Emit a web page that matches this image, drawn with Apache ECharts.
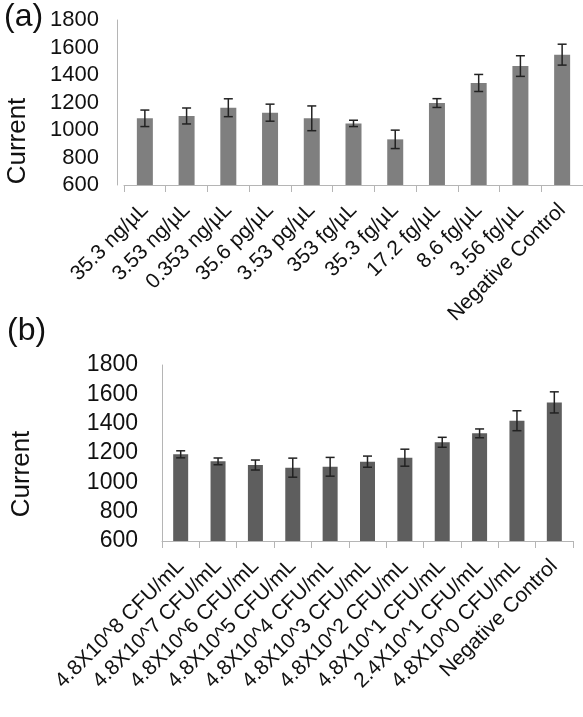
<!DOCTYPE html>
<html>
<head>
<meta charset="utf-8">
<script src="https://cdn.jsdelivr.net/npm/echarts@6/dist/echarts.min.js"></script>
<style>
html,body{margin:0;padding:0;background:#fff;}
#c{width:583px;height:717px;}
</style>
</head>
<body>
<div id="c"></div>
<script>
const catsA = ['35.3 ng/µL','3.53 ng/µL','0.353 ng/µL','35.6 pg/µL','3.53 pg/µL','353 fg/µL','35.3 fg/µL','17.2 fg/µL','8.6 fg/µL','3.56 fg/µL','Negative Control'];
const valsA = [1085, 1102, 1162, 1126, 1085, 1048, 932, 1196, 1342, 1465, 1548];
const errA  = [60, 58, 65, 62, 90, 23, 67, 32, 62, 75, 76];

const catsB = ['4.8X10^8 CFU/mL','4.8X10^7 CFU/mL','4.8X10^6 CFU/mL','4.8X10^5 CFU/mL','4.8X10^4 CFU/mL','4.8X10^3 CFU/mL','4.8X10^2 CFU/mL','4.8X10^1 CFU/mL','2.4X10^1 CFU/mL','4.8X10^0 CFU/mL','Negative Control'];
const valsB = [1191, 1143, 1118, 1100, 1106, 1141, 1168, 1273, 1334, 1420, 1545];
const errB  = [24, 23, 34, 65, 64, 38, 58, 34, 30, 68, 72];

const yMin = 600, yMax = 1800, yStep = 200;
const FONT = '"Liberation Sans", Arial, sans-serif';

function errRender(params, api) {
  const x = api.value(0), v = api.value(1), e = api.value(2);
  const t = api.coord([x, v + e]);
  const b = api.coord([x, v - e]);
  const hw = 4.5;
  const st = {stroke: '#222', lineWidth: 1.5};
  return {type: 'group', children: [
    {type: 'line', shape: {x1: t[0], y1: t[1], x2: b[0], y2: b[1]}, style: st},
    {type: 'line', shape: {x1: t[0]-hw, y1: t[1], x2: t[0]+hw, y2: t[1]}, style: st},
    {type: 'line', shape: {x1: b[0]-hw, y1: b[1], x2: b[0]+hw, y2: b[1]}, style: st}
  ]};
}

const axisLine = {lineStyle: {color: '#b5b5b5', width: 1}};

function xAx(cats, gi) {
  return {
    type: 'category', data: cats, gridIndex: gi,
    axisLine: axisLine,
    axisTick: {show: true, length: 7, lineStyle: {color: '#b5b5b5'}},
    axisLabel: {interval: 0, rotate: 45, fontSize: 21, color: '#111', fontFamily: FONT, margin: 22, verticalAlign: 'middle', padding: [20, 0, 0, 0]}
  };
}
function yAx(gi, off, margin, fs) {
  return {
    type: 'value', gridIndex: gi, min: yMin, max: yMax, interval: yStep, offset: off,
    axisLine: Object.assign({show: true}, axisLine),
    axisTick: {show: false},
    splitLine: {show: false},
    axisLabel: {fontSize: fs, color: '#111', fontFamily: FONT, margin: margin, formatter: v => String(v)}
  };
}

const chart = echarts.init(document.getElementById('c'));
chart.setOption({
  animation: false,
  backgroundColor: '#fff',
  grid: [
    {left: 124, top: 20, width: 461, height: 165},
    {left: 162, top: 365, width: 411, height: 176}
  ],
  xAxis: [xAx(catsA, 0), xAx(catsB, 1)],
  yAxis: [yAx(0, 7, 18, 22), yAx(1, 0, 24, 23)],
  graphic: [
    {type: 'text', left: 4, top: 1, style: {text: '(a)', fontSize: 32, fontFamily: FONT, fill: '#111'}},
    {type: 'text', left: 7, top: 315, style: {text: '(b)', fontSize: 32, fontFamily: FONT, fill: '#111'}},
    {type: 'text', x: 18, y: 141, rotation: Math.PI/2, style: {text: 'Current', fontSize: 26, fontFamily: FONT, fill: '#111', align: 'center', verticalAlign: 'middle'}},
    {type: 'text', x: 22, y: 474, rotation: Math.PI/2, style: {text: 'Current', fontSize: 26, fontFamily: FONT, fill: '#111', align: 'center', verticalAlign: 'middle'}}
  ],
  series: [
    {type: 'bar', xAxisIndex: 0, yAxisIndex: 0, data: valsA, barWidth: 16, itemStyle: {color: '#7f7f7f'}},
    {type: 'custom', xAxisIndex: 0, yAxisIndex: 0, renderItem: errRender, data: valsA.map((v, i) => [i, v, errA[i]]), z: 5},
    {type: 'bar', xAxisIndex: 1, yAxisIndex: 1, data: valsB, barWidth: 15, itemStyle: {color: '#5e5e5e'}},
    {type: 'custom', xAxisIndex: 1, yAxisIndex: 1, renderItem: errRender, data: valsB.map((v, i) => [i, v, errB[i]]), z: 5}
  ]
});
</script>
</body>
</html>
